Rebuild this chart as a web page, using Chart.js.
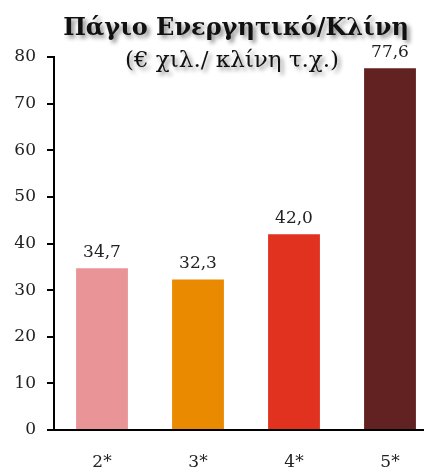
<!DOCTYPE html>
<html>
<head>
<meta charset="utf-8">
<script src="https://cdn.jsdelivr.net/npm/chart.js@4"></script>
<style>
  html, body { margin: 0; padding: 0; overflow: hidden; background: #fff; width: 424px; height: 469px; }
  #wrap { position: absolute; left: 0; top: 0; width: 445px; height: 482px; }
</style>
</head>
<body>
<div id="wrap"><canvas id="c" width="445" height="482"></canvas></div>
<script>
const categories = ["2*", "3*", "4*", "5*"];
const values = [34.7, 32.3, 42.0, 77.6];
const barColors = ["#E99597", "#EA8A00", "#E0321F", "#622222"];
const yTicks = [0, 10, 20, 30, 40, 50, 60, 70, 80];
const titleText = "Πάγιο Ενεργητικό/Κλίνη";
const subtitleText = "(€ χιλ./ κλίνη τ.χ.)";

const FONT = "'DejaVu Serif', 'Liberation Serif', serif";

const valueLabels = {
  id: 'valueLabels',
  afterDatasetsDraw(chart) {
    const ctx = chart.ctx;
    const meta = chart.getDatasetMeta(0);
    ctx.save();
    ctx.font = "17px " + FONT;
    ctx.fillStyle = "#222";
    ctx.textAlign = "center";
    ctx.textBaseline = "bottom";
    meta.data.forEach((bar, i) => {
      const txt = values[i].toFixed(1).replace('.', ',');
      ctx.fillText(txt, bar.x, bar.y - 7);
    });
    ctx.restore();
  }
};

const shadowTitles = {
  id: 'shadowTitles',
  afterDraw(chart) {
    const ctx = chart.ctx;
    ctx.save();
    ctx.shadowColor = "rgba(0,0,0,0.45)";
    ctx.shadowBlur = 4;
    ctx.shadowOffsetX = 3;
    ctx.shadowOffsetY = 3;
    ctx.fillStyle = "#111";
    ctx.textAlign = "center";
    ctx.textBaseline = "alphabetic";
    ctx.font = "bold 24px " + FONT;
    ctx.fillText(titleText, 236, 35);
    ctx.font = "23px " + FONT;
    ctx.fillText(subtitleText, 232, 67);
    ctx.restore();
  }
};

new Chart(document.getElementById('c'), {
  type: 'bar',
  data: {
    labels: categories,
    datasets: [{
      data: values,
      backgroundColor: barColors,
      borderWidth: 0,
      categoryPercentage: 1.0,
      barPercentage: 0.54
    }]
  },
  options: {
    responsive: false,
    animation: false,
    devicePixelRatio: 1,
    layout: { padding: { top: 57, right: 7, left: 0, bottom: 0 } },
    plugins: {
      legend: { display: false },
      tooltip: { enabled: false },
      title: { display: false }
    },
    scales: {
      x: {
        grid: { display: false, drawTicks: false },
        border: { display: true, color: "#000", width: 2 },
        ticks: { color: "#222", font: { family: FONT, size: 17 }, padding: 22 },
        afterFit(scale) { scale.height = 482 - 430; }
      },
      y: {
        min: 0,
        max: 80,
        afterBuildTicks(scale) { scale.ticks = yTicks.map(v => ({ value: v })); },
        grid: { drawOnChartArea: false, drawTicks: true, tickLength: 7, color: "#000", lineWidth: 2 },
        border: { display: true, color: "#000", width: 2 },
        ticks: { color: "#222", font: { family: FONT, size: 17 }, padding: 11 },
        afterFit(scale) { scale.width = 54; }
      }
    }
  },
  plugins: [valueLabels, shadowTitles]
});
</script>
</body>
</html>
